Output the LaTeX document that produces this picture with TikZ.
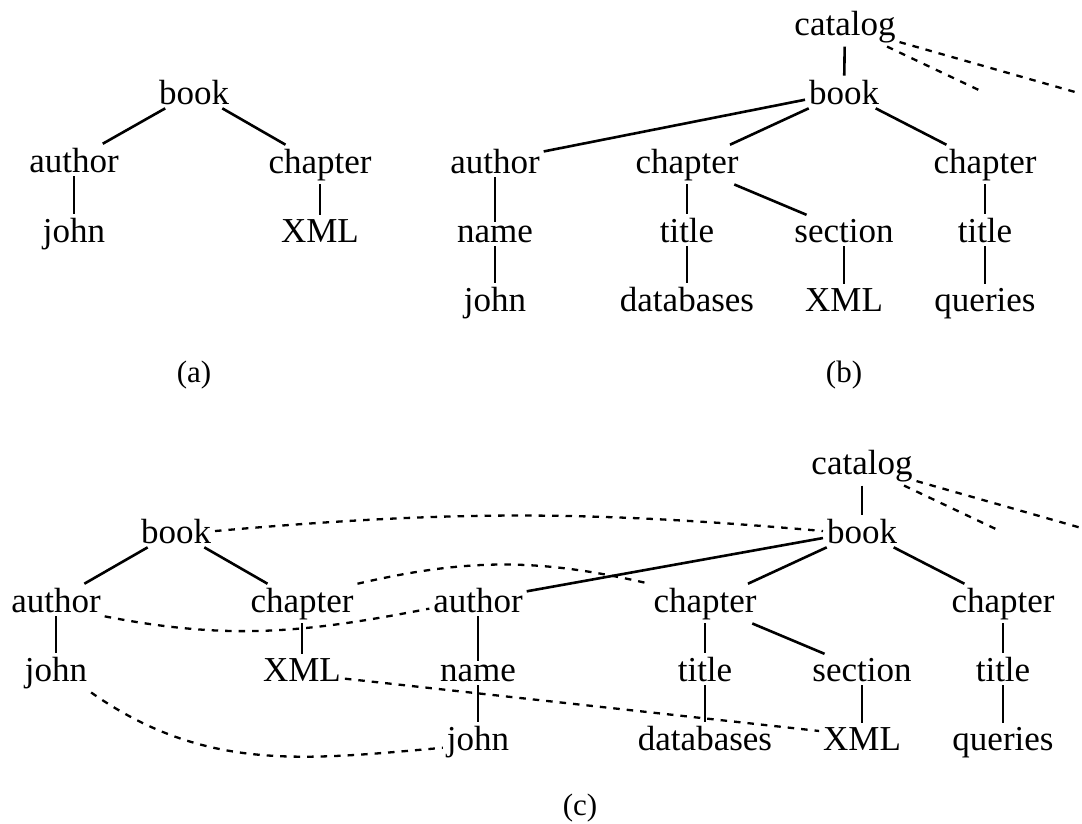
\documentclass[tikz,border=0pt]{standalone}
\usepackage{fontspec}
\setmainfont{Liberation Serif}
\newcommand{\treefont}{\fontsize{35}{41}\selectfont}
\newcommand{\capfont}{\fontsize{31}{37}\selectfont}
\tikzset{
  tn/.style={anchor=base, inner sep=4pt, outer sep=0pt, font=\treefont},
  subcaption/.style={anchor=center, inner sep=0pt, font=\capfont},
  treeline/.style={line width=2.6pt},
  embedlink/.style={line width=2.3pt, dash pattern=on 6.5pt off 7pt},
}
\begin{document}
\begin{tikzpicture}[x=1pt, y=-1pt]
\useasboundingbox (0,0) rectangle (1082,823);

% ---------- (a) the query tree ----------
\node[tn] (bookA) at (194,104) {book};
\node[tn] (authA) at (74,172)  {author};
\node[tn] (chapA) at (320,173) {chapter};
\node[tn] (johnA) at (74,242)  {john};
\node[tn] (xmlA)  at (320,242) {XML};
\draw[treeline] (bookA) -- (authA);
\draw[treeline] (bookA) -- (chapA);
\draw[treeline] (authA) -- (johnA);
\draw[treeline] (chapA) -- (xmlA);
\node[subcaption] (capA) at (194,375) {(a)};

% ---------- (b) the document tree ----------
\node[tn] (catB)   at (845,35)  {catalog};
\node[tn] (bookB)  at (844,104) {book};
\node[tn] (authB)  at (495,173) {author};
\node[tn] (chapB)  at (687,173) {chapter};
\node[tn] (chapBr) at (985,173) {chapter};
\node[tn] (nameB)  at (495,242) {name};
\node[tn] (titB)   at (687,242) {title};
\node[tn] (secB)   at (844,242) {section};
\node[tn] (titBr)  at (985,242) {title};
\node[tn] (johnB)  at (495,311) {john};
\node[tn] (dbB)    at (687,311) {databases};
\node[tn] (xmlB)   at (844,311) {XML};
\node[tn] (qB)     at (985,311) {queries};
\coordinate (moreB1) at (983,92);
\coordinate (moreB2) at (1075,92);
\draw[treeline] (catB) -- (bookB);
\draw[treeline] (bookB) -- (authB);
\draw[treeline] (bookB) -- (chapB);
\draw[treeline] (bookB) -- (chapBr);
\draw[treeline] (authB) -- (nameB);
\draw[treeline] (nameB) -- (johnB);
\draw[treeline] (chapB) -- (titB);
\draw[treeline] (chapB) -- (secB);
\draw[treeline] (titB) -- (dbB);
\draw[treeline] (secB) -- (xmlB);
\draw[treeline] (chapBr) -- (titBr);
\draw[treeline] (titBr) -- (qB);
\draw[embedlink] (catB) -- (moreB1);
\draw[embedlink] (catB) -- (moreB2);
\node[subcaption] (capB) at (844,375) {(b)};

% ---------- (c) the query tree embedded in the document ----------
% query tree
\node[tn] (bookL) at (176,543) {book};
\node[tn] (aL)    at (56,612)  {author};
\node[tn] (cL)    at (302,612) {chapter};
\node[tn] (jL)    at (56,681)  {john};
\node[tn] (xL)    at (302,681) {XML};
\draw[treeline] (bookL) -- (aL);
\draw[treeline] (bookL) -- (cL);
\draw[treeline] (aL) -- (jL);
\draw[treeline] (cL) -- (xL);
% document tree
\node[tn] (catC)  at (862,474) {catalog};
\node[tn] (bookR) at (862,543) {book};
\node[tn] (aR)    at (478,612) {author};
\node[tn] (cM)    at (705,612) {chapter};
\node[tn] (cR)    at (1003,612) {chapter};
\node[tn] (nR)    at (478,681) {name};
\node[tn] (tM)    at (705,681) {title};
\node[tn] (sR)    at (862,681) {section};
\node[tn] (tR)    at (1003,681) {title};
\node[tn] (jR)    at (478,750) {john};
\node[tn] (dM)    at (705,750) {databases};
\node[tn] (xR)    at (862,750) {XML};
\node[tn] (qR)    at (1003,750) {queries};
\coordinate (moreC1) at (1000,531);
\coordinate (moreC2) at (1092,531);
\draw[treeline] (catC) -- (bookR);
\draw[treeline] (bookR) -- (aR);
\draw[treeline] (bookR) -- (cM);
\draw[treeline] (bookR) -- (cR);
\draw[treeline] (aR) -- (nR);
\draw[treeline] (nR) -- (jR);
\draw[treeline] (cM) -- (tM);
\draw[treeline] (cM) -- (sR);
\draw[treeline] (tM) -- (dM);
\draw[treeline] (sR) -- (xR);
\draw[treeline] (cR) -- (tR);
\draw[treeline] (tR) -- (qR);
\draw[embedlink] (catC) -- (moreC1);
\draw[embedlink] (catC) -- (moreC2);
% embedding links between the two trees
\draw[embedlink] (bookL.east) to[out=5,in=175] (bookR.west);
\draw[embedlink] (aL.south east) to[out=-11,in=191] (aR.190);
\draw[embedlink] (cL.north east) to[out=13,in=167] (cM.north west);
\draw[embedlink] (xL.-12) -- (xR.170);
\draw[embedlink] (jL.south east) to[out=-35,in=185] (jR.190);
\node[subcaption] (capC) at (580,808) {(c)};
\end{tikzpicture}
\end{document}
